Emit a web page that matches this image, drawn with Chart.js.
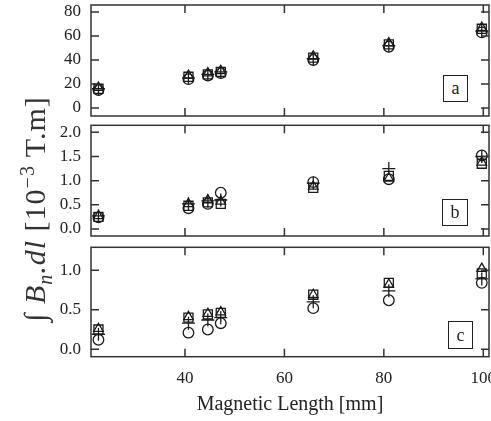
<!DOCTYPE html>
<html>
<head>
<meta charset="utf-8">
<script src="https://cdn.jsdelivr.net/npm/chart.js@4.4.1/dist/chart.umd.min.js"></script>
<style>
  body { margin: 0; background: #fff; }
  #wrap { position: relative; width: 491px; height: 421px; overflow: hidden; font-family: "Liberation Serif", serif; color: #222; }
  canvas { position: absolute; left: 0; }
  .tag { position: absolute; border: 1px solid #222; font-size: 18px; text-align: center; box-sizing: border-box; background: #fff; }
  #ytitle { position: absolute; width: 340px; height: 40px; left: -143px; top: 189px; line-height: 40px; color: #333;
            text-align: center; white-space: nowrap; font-size: 30px; letter-spacing: 1px; transform: rotate(-90deg); }
  #ytitle sub, #ytitle sup { font-size: 20px; }
</style>
</head>
<body>
<div id="wrap">
  <canvas id="pa" width="491" height="121" style="top:0px"></canvas>
  <canvas id="pb" width="491" height="120" style="top:121px"></canvas>
  <canvas id="pc" width="491" height="180" style="top:241px"></canvas>
  <div class="tag" style="left:443px;top:75px;width:25px;height:27px;line-height:25px">a</div>
  <div class="tag" style="left:442px;top:199px;width:26px;height:27px;line-height:25px">b</div>
  <div class="tag" style="left:448px;top:321px;width:25px;height:28px;line-height:26px">c</div>
  <div id="ytitle">&int; <i>B<sub>n</sub>.dl</i> [10<sup>&minus;3</sup> T.m]</div>
</div>
<script>
// magnetic lengths [mm]
const lengths = [22.6, 40.7, 44.6, 47.2, 65.8, 81.0, 99.7];
const xTicks = [40, 60, 80, 100];

// panel a
const aCircle   = [15, 24, 27, 29, 40, 51, 63];
const aPlus     = [16, 25, 28, 30, 41, 52, 64];
const aTriangle = [17, 27, 29, 31, 43, 54, 67];
const aSquare   = [16, 26, 28, 30, 42, 53, 66];
const aTicks = [0, 20, 40, 60, 80];

// panel b
const bCircle   = [0.24, 0.43, 0.52, 0.75, 0.97, 1.03, 1.52];
const bPlus     = [0.27, 0.52, 0.58, 0.60, 0.95, 1.25, 1.50];
const bTriangle = [0.27, 0.52, 0.60, 0.57, 0.88, 1.05, 1.38];
const bSquare   = [0.25, 0.48, 0.55, 0.52, 0.85, 1.10, 1.35];
const bTicks = [0, 0.5, 1.0, 1.5, 2.0];

// panel c
const cCircle   = [0.12, 0.21, 0.25, 0.33, 0.52, 0.62, 0.84];
const cPlus     = [0.19, 0.33, 0.37, 0.40, 0.60, 0.74, 0.89];
const cTriangle = [0.26, 0.41, 0.45, 0.47, 0.69, 0.82, 1.02];
const cSquare   = [0.25, 0.40, 0.44, 0.46, 0.69, 0.84, 0.96];
const cTicks = [0, 0.5, 1.0];

const ink = '#1a1a1a';
const tickFont = { family: 'Liberation Serif', size: 17 };

// frame + inward ticks on all four sides
const framePlugin = {
  id: 'frame',
  afterDraw(chart) {
    const ctx = chart.ctx, ca = chart.chartArea;
    const xs = chart.scales.x, ys = chart.scales.y;
    const len = 8;
    ctx.save();
    ctx.strokeStyle = '#333';
    ctx.lineWidth = 1.5;
    ctx.strokeRect(ca.left, ca.top, ca.right - ca.left, ca.bottom - ca.top);
    ctx.beginPath();
    xTicks.forEach(v => {
      const px = xs.getPixelForValue(v);
      ctx.moveTo(px, ca.top); ctx.lineTo(px, ca.top + len);
      ctx.moveTo(px, ca.bottom); ctx.lineTo(px, ca.bottom - len);
    });
    ys.ticks.forEach(t => {
      const py = ys.getPixelForValue(t.value);
      ctx.moveTo(ca.left, py); ctx.lineTo(ca.left + len, py);
      ctx.moveTo(ca.right, py); ctx.lineTo(ca.right - len, py);
    });
    ctx.stroke();
    ctx.restore();
  }
};

function series(vals, style, r) {
  return {
    data: lengths.map((x, i) => ({ x: x, y: vals[i] })),
    pointStyle: style,
    pointRadius: r,
    pointBorderColor: ink,
    pointBackgroundColor: 'rgba(0,0,0,0)',
    pointBorderWidth: 1.3,
    showLine: false
  };
}

function makePanel(id, sets, yMin, yMax, yTicks, digits, pad, showX) {
  new Chart(document.getElementById(id), {
    type: 'scatter',
    data: {
      datasets: [
        series(sets[0], 'circle', 5.3),
        series(sets[1], 'cross', 6.5),
        series(sets[2], 'triangle', 5.5),
        series(sets[3], 'rect', 6.4)
      ]
    },
    options: {
      responsive: false,
      animation: false,
      layout: { autoPadding: false, padding: { left: 0, right: 2, top: pad.top, bottom: pad.bottom } },
      plugins: { legend: { display: false }, tooltip: { enabled: false } },
      scales: {
        x: {
          type: 'linear', min: 21.1, max: 101.15,
          grid: { display: false, drawTicks: false }, border: { display: false },
          afterBuildTicks: s => { s.ticks = xTicks.map(v => ({ value: v })); },
          ticks: { display: showX, font: tickFont, color: '#222', padding: 12, maxRotation: 0, autoSkip: false },
          title: {
            display: showX, text: 'Magnetic Length [mm]', color: '#222',
            font: { family: 'Liberation Serif', size: 20 }, padding: { top: 0, bottom: 4 }
          },
          afterFit: s => { s.height = pad.xh; s.paddingLeft = 0; s.paddingRight = 0; }
        },
        y: {
          min: yMin, max: yMax,
          grid: { display: false, drawTicks: false }, border: { display: false },
          afterBuildTicks: s => { s.ticks = yTicks.map(v => ({ value: v })); },
          ticks: { font: tickFont, color: '#222', padding: 10, callback: v => v.toFixed(digits) },
          afterFit: s => { s.width = 91; s.paddingTop = 0; s.paddingBottom = 0; }
        }
      }
    },
    plugins: [framePlugin]
  });
}

makePanel('pa', [aCircle, aPlus, aTriangle, aSquare], -6.7, 85.8, aTicks, 0, { top: 5, bottom: 5, xh: 0 }, false);
makePanel('pb', [bCircle, bPlus, bTriangle, bSquare], -0.145, 2.145, bTicks, 1, { top: 4.3, bottom: 5, xh: 0 }, false);
makePanel('pc', [cCircle, cPlus, cTriangle, cSquare], -0.094, 1.29, cTicks, 1, { top: 6.3, bottom: 0, xh: 64.3 }, true);
</script>
</body>
</html>
